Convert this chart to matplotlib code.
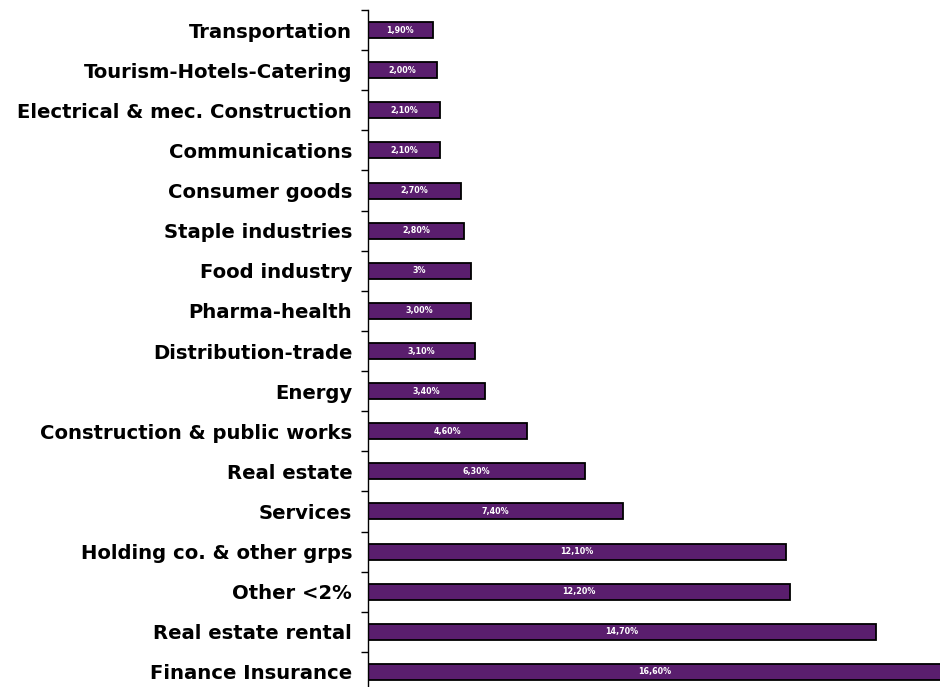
import matplotlib.pyplot as plt
import numpy as np
from matplotlib.ticker import FixedLocator

# categories listed top to bottom
sectors = [
    "Transportation", "Tourism-Hotels-Catering", "Electrical & mec. Construction",
    "Communications", "Consumer goods", "Staple industries", "Food industry",
    "Pharma-health", "Distribution-trade", "Energy", "Construction & public works",
    "Real estate", "Services", "Holding co. & other grps", "Other <2%",
    "Real estate rental", "Finance Insurance",
]
shares = [1.9, 2.0, 2.1, 2.1, 2.7, 2.8, 3.0, 3.0, 3.1, 3.4, 4.6, 6.3, 7.4,
          12.1, 12.2, 14.7, 16.6]
share_labels = ["1,90%", "2,00%", "2,10%", "2,10%", "2,70%", "2,80%", "3%",
                "3,00%", "3,10%", "3,40%", "4,60%", "6,30%", "7,40%",
                "12,10%", "12,20%", "14,70%", "16,60%"]

BAR_COLOR = "#5a1e6e"

fig = plt.figure(figsize=(9.4, 6.87), dpi=100)
ax = fig.add_axes([367.5 / 940, 1 - 692 / 687, 572.5 / 940, 682 / 687])

y = np.arange(len(sectors))
bars = ax.barh(y, shares, height=0.4, color=BAR_COLOR, edgecolor="black",
               linewidth=1.3)

for b, lab in zip(bars, share_labels):
    ax.text(b.get_width() / 2, b.get_y() + b.get_height() / 2, lab,
            ha="center", va="center", color="white", fontsize=5.8,
            fontweight="bold")

ax.set_xlim(0, 16.55)
ax.set_ylim(len(sectors) - 0.5, -0.5)

ax.set_yticks(y)
ax.set_yticklabels(sectors, fontsize=14.1, fontweight="bold")
ax.tick_params(axis="y", which="major", length=0, pad=11)
ax.yaxis.set_minor_locator(FixedLocator(np.arange(-0.5, len(sectors), 1.0)))
ax.tick_params(axis="y", which="minor", length=5, width=1, direction="out")

ax.set_xticks([])
for s in ["top", "right", "bottom"]:
    ax.spines[s].set_visible(False)
ax.spines["left"].set_linewidth(1)

plt.savefig("out.png", dpi=100)
